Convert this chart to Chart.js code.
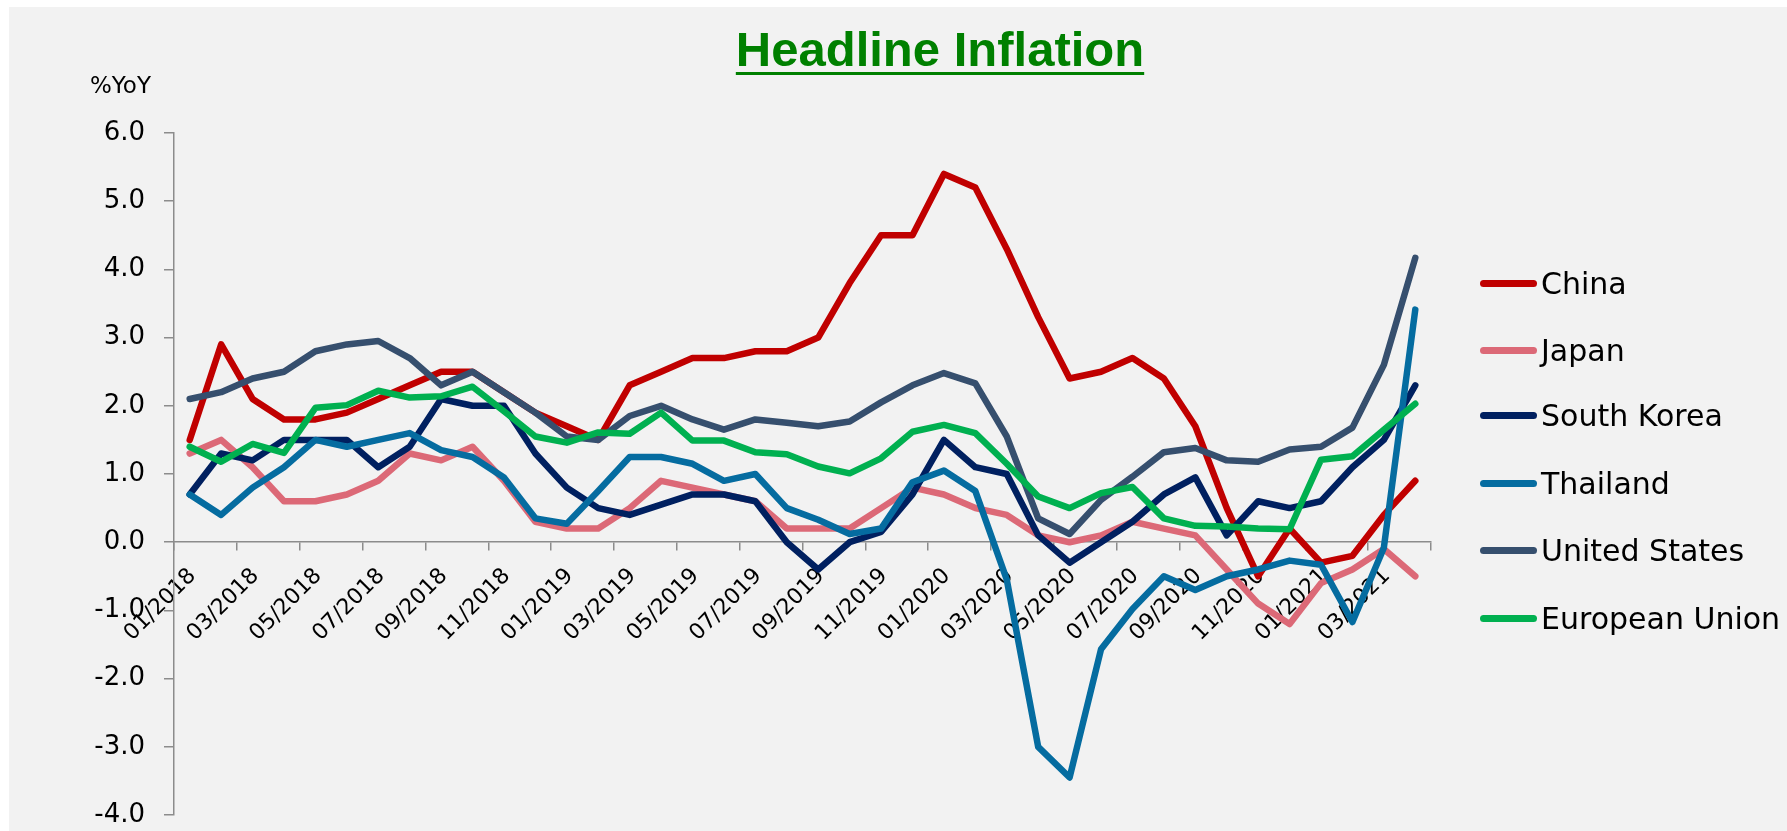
<!DOCTYPE html>
<html>
<head>
<meta charset="utf-8">
<title>Headline Inflation</title>
<script src="https://cdn.jsdelivr.net/npm/chart.js@4.4.1/dist/chart.umd.min.js"></script>
<style>
  body { margin: 0; background: #fff; }
  #panel {
    position: absolute; left: 9px; top: 7px;
    width: 1778px; height: 824px;
    background: #f2f2f2; overflow: hidden;
  }
  #chart { position: absolute; left: 0; top: 0; }
  #title {
    position: absolute; left: 0; width: 1862px; top: 14px;
    text-align: center;
    font: bold 49px "Liberation Sans", Arial, sans-serif;
    color: #008000;
    text-decoration: underline; text-decoration-thickness: 3px; text-underline-offset: 6px;
  }
  #unit {
    position: absolute; left: 81px; top: 65px;
    font: 23px "DejaVu Sans", sans-serif; color: #000;
  }
  #legend { position: absolute; left: 1471px; top: 0; }
  .item {
    position: absolute; left: 0; height: 36px; line-height: 36px;
    display: flex; align-items: center; white-space: nowrap;
    font: 30px "DejaVu Sans", sans-serif; color: #000;
  }
  .swatch { width: 57px; height: 7px; border-radius: 4px; margin-right: 4px; flex: none; }
</style>
</head>
<body>
<div id="panel">
  <canvas id="chart" width="1778" height="824"></canvas>
  <div id="title">Headline Inflation</div>
  <div id="unit">%YoY</div>
  <div id="legend"></div>
</div>
<script>
// months 01/2018 .. 04/2021
const months = [
  '01/2018', '02/2018', '03/2018', '04/2018', '05/2018', '06/2018', '07/2018', '08/2018', '09/2018', '10/2018', '11/2018', '12/2018',
  '01/2019', '02/2019', '03/2019', '04/2019', '05/2019', '06/2019', '07/2019', '08/2019', '09/2019', '10/2019', '11/2019', '12/2019',
  '01/2020', '02/2020', '03/2020', '04/2020', '05/2020', '06/2020', '07/2020', '08/2020', '09/2020', '10/2020', '11/2020', '12/2020',
  '01/2021', '02/2021', '03/2021', '04/2021'
];

const china = [
  1.5, 2.9, 2.1, 1.8, 1.8, 1.9, 2.1, 2.3, 2.5, 2.5, 2.2, 1.9,
  1.7, 1.5, 2.3, 2.5, 2.7, 2.7, 2.8, 2.8, 3.0, 3.8, 4.5, 4.5,
  5.4, 5.2, 4.3, 3.3, 2.4, 2.5, 2.7, 2.4, 1.7, 0.5, -0.5, 0.2,
  -0.3, -0.2, 0.4, 0.9
];
const japan = [
  1.3, 1.5, 1.1, 0.6, 0.6, 0.7, 0.9, 1.3, 1.2, 1.4, 0.9, 0.3,
  0.2, 0.2, 0.5, 0.9, 0.8, 0.7, 0.6, 0.2, 0.2, 0.2, 0.5, 0.8,
  0.7, 0.5, 0.4, 0.1, 0.0, 0.1, 0.3, 0.2, 0.1, -0.4, -0.9, -1.2,
  -0.6, -0.4, -0.1, -0.5
];
const southKorea = [
  0.7, 1.3, 1.2, 1.5, 1.5, 1.5, 1.1, 1.4, 2.1, 2.0, 2.0, 1.3,
  0.8, 0.5, 0.4, 0.55, 0.7, 0.7, 0.6, 0.0, -0.4, 0.0, 0.15, 0.7,
  1.5, 1.1, 1.0, 0.1, -0.3, 0.0, 0.3, 0.7, 0.95, 0.1, 0.6, 0.5,
  0.6, 1.1, 1.5, 2.3
];
const thailand = [
  0.7, 0.4, 0.8, 1.1, 1.5, 1.4, 1.5, 1.6, 1.35, 1.25, 0.95, 0.35,
  0.27, 0.75, 1.25, 1.25, 1.15, 0.9, 1.0, 0.5, 0.33, 0.12, 0.2, 0.88,
  1.05, 0.75, -0.55, -3.0, -3.45, -1.57, -0.98, -0.5, -0.7, -0.5, -0.4, -0.27,
  -0.33, -1.17, -0.08, 3.41
];
const unitedStates = [
  2.1, 2.2, 2.4, 2.5, 2.8, 2.9, 2.95, 2.7, 2.3, 2.5, 2.2, 1.9,
  1.55, 1.5, 1.85, 2.0, 1.8, 1.65, 1.8, 1.75, 1.7, 1.77, 2.05, 2.3,
  2.48, 2.33, 1.55, 0.35, 0.12, 0.62, 0.96, 1.32, 1.38, 1.2, 1.18, 1.36,
  1.4, 1.68, 2.6, 4.17
];
const europeanUnion = [
  1.4, 1.18, 1.44, 1.31, 1.97, 2.01, 2.22, 2.12, 2.14, 2.28, 1.92, 1.55,
  1.46, 1.61, 1.59, 1.9, 1.49, 1.49, 1.32, 1.29, 1.11, 1.01, 1.23, 1.62,
  1.72, 1.6, 1.15, 0.67, 0.5, 0.72, 0.81, 0.35, 0.24, 0.23, 0.2, 0.19,
  1.21, 1.26, 1.65, 2.03
];

const seriesNames = ['China', 'Japan', 'South Korea', 'Thailand', 'United States', 'European Union'];
const seriesData = [china, japan, southKorea, thailand, unitedStates, europeanUnion];
const seriesColors = ['#c00000', '#dc6977', '#002060', '#056ca0', '#364f6e', '#00b050'];

const yTicks = [-4, -3, -2, -1, 0, 1, 2, 3, 4, 5, 6];

const axisGray = '#8c8c8c';

// later series are painted on top, like the spreadsheet original
const datasets = seriesNames.map((name, i) => ({
  label: name,
  data: seriesData[i],
  borderColor: seriesColors[i],
  backgroundColor: seriesColors[i],
  borderWidth: 6.5,
  borderCapStyle: 'round',
  borderJoinStyle: 'round',
  pointRadius: 0,
  tension: 0,
  order: seriesNames.length - i
}));

const ctx = document.getElementById('chart').getContext('2d');
const chart = new Chart(ctx, {
  type: 'line',
  data: { labels: months, datasets: datasets },
  options: {
    responsive: false,
    animation: false,
    layout: { padding: { left: 0, right: 356, top: 126, bottom: 16 } },
    plugins: {
      legend: { display: false },
      tooltip: { enabled: false }
    },
    scales: {
      x: {
        type: 'category',
        position: { y: 0 },
        offset: true,
        border: { color: axisGray, width: 1.5 },
        grid: {
          offset: true,
          drawOnChartArea: false,
          tickLength: 8,
          lineWidth: 1.5,
          // tick marks only every second month
          color: (c) => (c.index === undefined || c.index % 2 === 0) ? axisGray : 'rgba(0,0,0,0)'
        },
        ticks: {
          autoSkip: false,
          minRotation: 45,
          maxRotation: 45,
          padding: 13,
          labelOffset: 3,
          color: '#000',
          font: { family: 'DejaVu Sans', size: 22 },
          callback: function (value, index) {
            return index % 2 === 0 ? this.getLabelForValue(value) : '';
          }
        }
      },
      y: {
        min: yTicks[0],
        max: yTicks[yTicks.length - 1],
        afterFit: (scale) => {
          scale.width = 165;
          scale.paddingTop = 0;
          scale.paddingBottom = 0;
        },
        afterBuildTicks: (scale) => { scale.ticks = yTicks.map(v => ({ value: v })); },
        border: { color: axisGray, width: 1.5 },
        grid: {
          drawOnChartArea: false,
          tickLength: 10,
          lineWidth: 1.5,
          color: axisGray
        },
        ticks: {
          padding: 19,
          color: '#000',
          font: { family: 'DejaVu Sans', size: 26 },
          callback: (v) => v.toFixed(1)
        }
      }
    }
  }
});

// legend on the right, one row per series
const legend = document.getElementById('legend');
const legendRows = [276, 343, 408, 476, 543, 611];
seriesNames.forEach((name, i) => {
  const item = document.createElement('div');
  item.className = 'item';
  item.style.top = (legendRows[i] - 18) + 'px';
  const sw = document.createElement('span');
  sw.className = 'swatch';
  sw.style.background = seriesColors[i];
  item.appendChild(sw);
  item.appendChild(document.createTextNode(name));
  legend.appendChild(item);
});
</script>
</body>
</html>
